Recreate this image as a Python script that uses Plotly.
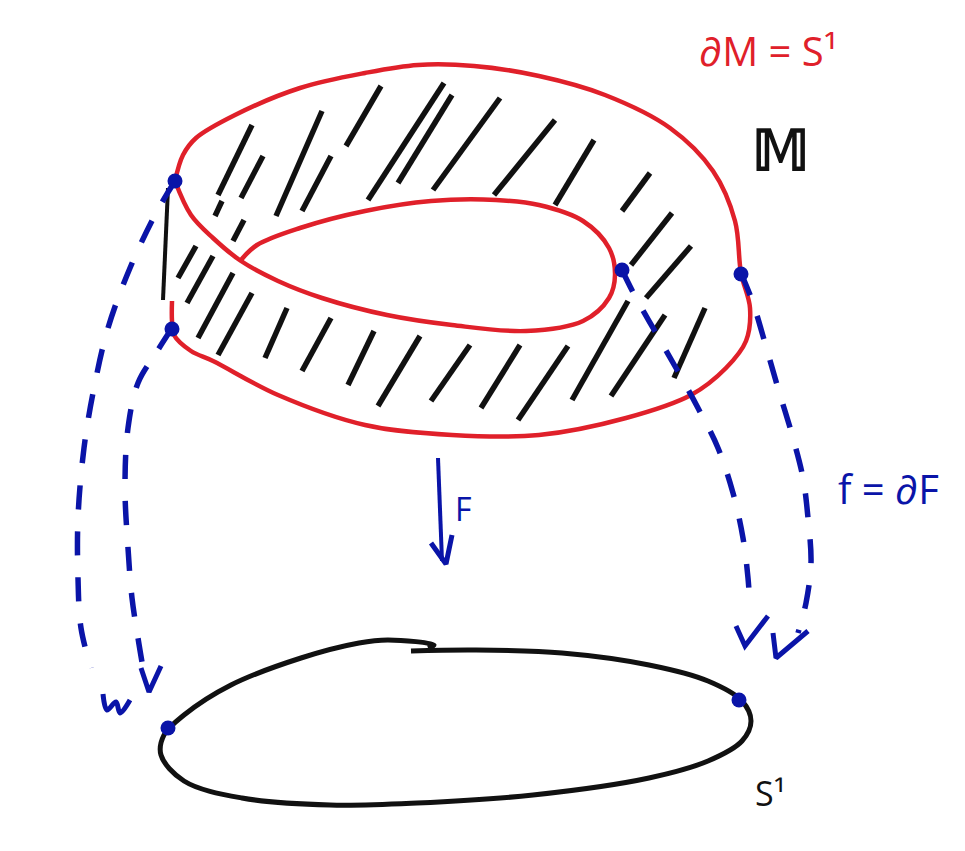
import plotly.graph_objects as go

# canvas in picture pixels, y going down
W, H = 965, 851

# red boundary of the band: outer edge, from top-left point clockwise
outer_x = [167, 175, 188, 227, 292, 357, 410, 466, 531, 597, 662, 705, 727, 733,
           742, 738, 718, 683, 618, 531, 444, 357, 270, 205, 183, 166, 164, 164]
outer_y = [173, 147, 130, 107, 80, 65, 57, 58, 68, 87, 120, 163, 213, 265,
           300, 333, 360, 387, 410, 427, 427, 417, 387, 353, 343, 327, 313, 293]

# red inner edge (runs under, round the hole, back to the crossing)
inner_x = [167, 183, 205, 233, 270, 314, 379, 444, 518, 575, 601, 607, 601, 575,
           531, 488, 423, 357, 292, 249, 233]
inner_y = [173, 207, 230, 253, 273, 290, 307, 317, 323, 313, 290, 267, 240, 213,
           197, 192, 193, 203, 220, 237, 252]

# black hatching strokes (x0, y0, x1, y1)
hatches = [
    (244, 117, 210, 187), (255, 148, 233, 190), (314, 103, 268, 208),
    (323, 148, 294, 203), (373, 78, 338, 138), (436, 75, 360, 192),
    (444, 87, 390, 175), (492, 90, 425, 182), (547, 112, 486, 187),
    (586, 132, 547, 197), (642, 165, 614, 203), (664, 205, 623, 257),
    (683, 238, 638, 290), (214, 193, 207, 208), (236, 212, 225, 233),
    (188, 238, 170, 270), (205, 248, 179, 295), (225, 265, 190, 330),
    (244, 285, 210, 347), (279, 300, 257, 350), (323, 310, 294, 363),
    (366, 323, 340, 377), (412, 328, 370, 398), (462, 337, 423, 393),
    (512, 337, 473, 400), (560, 338, 510, 412), (620, 293, 564, 392),
    (657, 307, 603, 388), (697, 300, 666, 370),
]
edge_line = (160, 180, 155, 292)

# blue dashed maps down to the circle
left_outer_x = [167, 148, 122, 100, 86, 76, 70, 70, 73, 83]
left_outer_y = [173, 205, 260, 320, 380, 440, 510, 570, 620, 660]
left_inner_x = [164, 148, 130, 120, 117, 120, 124, 130, 135]
left_inner_y = [320, 345, 375, 420, 480, 540, 590, 630, 660]
right_outer_x = [733, 745, 757, 770, 785, 795, 800, 803, 798, 790]
right_outer_y = [265, 295, 335, 380, 430, 470, 510, 555, 595, 625]
right_inner_x = [614, 628, 648, 668, 690, 710, 725, 735, 740, 742]
right_inner_y = [262, 290, 325, 360, 400, 440, 485, 530, 570, 600]

# little hand-drawn arrow heads
heads = [
    [(95, 686), (99, 702), (108, 694), (112, 705), (122, 692)],
    [(133, 660), (141, 684), (153, 658)],
    [(728, 618), (737, 638), (760, 608)],
    [(765, 625), (768, 650), (800, 623)],
    [(423, 535), (438, 556), (444, 527)],
]
f_arrow = (430, 450, 434, 553)

# black circle S^1 underneath
circle_x = [403, 467, 554, 641, 700, 734, 743, 734, 700, 641, 525, 409, 322,
            234, 176, 153, 156, 176, 223, 293, 351, 380, 426, 420]
circle_y = [643, 642, 645, 657, 673, 693, 713, 733, 753, 770, 787, 795, 797,
            790, 773, 747, 727, 707, 677, 650, 635, 632, 637, 640]

# blue marked points
dots_x = [167, 164, 614, 733, 160, 731]
dots_y = [173, 321, 262, 266, 720, 692]

RED = "#e0202a"
BLUE = "#0a14a8"
BLACK = "#111111"

fig = go.Figure()


def curve(xs, ys, color, width=4.5, dash=None, shape="spline"):
    fig.add_trace(go.Scatter(
        x=xs, y=ys, mode="lines",
        line=dict(color=color, width=width, shape=shape, dash=dash,
                  smoothing=1.0),
        hoverinfo="skip", showlegend=False))


def segments(segs, color, width=4.5):
    xs, ys = [], []
    for x0, y0, x1, y1 in segs:
        xs += [x0, x1, None]
        ys += [y0, y1, None]
    curve(xs, ys, color, width, shape="linear")


segments(hatches, BLACK, 5.5)
segments([edge_line], BLACK, 4)
curve(outer_x, outer_y, RED, 4.5)
curve(inner_x, inner_y, RED, 4.5)

for xs, ys in [(left_outer_x, left_outer_y), (left_inner_x, left_inner_y),
               (right_outer_x, right_outer_y), (right_inner_x, right_inner_y)]:
    curve(xs, ys, BLUE, 5.5, dash="24px,22px")

for i, h in enumerate(heads):
    curve([p[0] for p in h], [p[1] for p in h], BLUE, 5,
          shape="spline" if i == 0 else "linear")
segments([f_arrow], BLUE, 4)

curve(circle_x, circle_y, BLACK, 5)

fig.add_trace(go.Scatter(x=dots_x, y=dots_y, mode="markers",
                         marker=dict(color=BLUE, size=15),
                         hoverinfo="skip", showlegend=False))

FONT = "Open Sans"
labels = [
    ("∂M = S¹", 760, 42, RED, 40),
    ("<b>𝕄</b>", 772, 140, BLACK, 56),
    ("F", 455, 500, BLUE, 32),
    ("f = ∂F", 880, 480, BLUE, 40),
    ("S¹", 762, 785, BLACK, 34),
]
for txt, x, y, col, size in labels:
    fig.add_annotation(x=x, y=y, text=txt, showarrow=False,
                       font=dict(family=FONT, size=size, color=col),
                       xanchor="center", yanchor="middle")

fig.update_layout(
    width=W, height=H,
    margin=dict(l=0, r=0, t=0, b=0),
    paper_bgcolor="white", plot_bgcolor="white",
    xaxis=dict(range=[0, W], visible=False, fixedrange=True),
    yaxis=dict(range=[H, 0], visible=False, fixedrange=True),
)

fig.write_html("out.html")
